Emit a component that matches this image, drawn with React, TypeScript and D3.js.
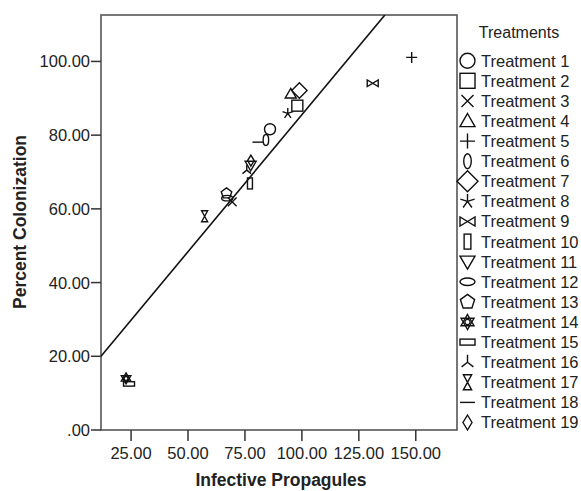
import React from "react";
import * as d3 from "d3";

const treatments = [
  "Treatment 1", "Treatment 2", "Treatment 3", "Treatment 4", "Treatment 5",
  "Treatment 6", "Treatment 7", "Treatment 8", "Treatment 9", "Treatment 10",
  "Treatment 11", "Treatment 12", "Treatment 13", "Treatment 14", "Treatment 15",
  "Treatment 16", "Treatment 17", "Treatment 18", "Treatment 19",
];
const shapes = [
  "circle", "square", "x", "triUp", "plus", "ellV", "diamond", "star5", "bowtie", "rectTall",
  "triDown", "ellH", "pentagon", "star6", "rectFlat", "invY", "hourglass", "dash", "diamondSmall",
];
const propagules = [86.0, 98.0, 69.4, 95.1, 148.2, 84.2, 98.9, 93.8, 131.1, 77.2, 77.5, 67.2, 66.9, 22.8, 24.1, 75.8, 57.3, 80.7, 77.6];
const colonization = [81.6, 88.0, 61.9, 91.2, 101.1, 78.7, 92.1, 85.9, 94.1, 66.9, 71.8, 62.9, 64.2, 14.0, 12.5, 70.5, 58.0, 78.1, 73.1];

const xTicks = [25, 50, 75, 100, 125, 150];
const yTicks = [0, 20, 40, 60, 80, 100];
const xDomain = [11.8, 168.1];
const yDomain = [0, 112.6];
const fitIntercept = 11.23;
const fitSlope = 0.743;

const FONT = "'Liberation Sans', Arial, sans-serif";

function fmt(v: number) {
  const s = d3.format(".2f")(v);
  return v === 0 ? s.replace(/^0/, "") : s;
}

function Marker({ shape, cx, cy, r }: { shape: string; cx: number; cy: number; r: number }) {
  const common = { fill: "none", stroke: "#111", strokeWidth: 1.4 };
  const t = `translate(${cx},${cy})`;
  let el: React.ReactNode = null;
  switch (shape) {
    case "circle":
      el = <circle r={r} {...common} />;
      break;
    case "square":
      el = <rect x={-r} y={-r} width={2 * r} height={2 * r} {...common} />;
      break;
    case "x":
      el = <path d={`M${-r * 0.8},${-r * 0.8}L${r * 0.8},${r * 0.8}M${r * 0.8},${-r * 0.8}L${-r * 0.8},${r * 0.8}`} {...common} />;
      break;
    case "triUp":
      el = <path d={`M0,${-r}L${r},${r * 0.75}L${-r},${r * 0.75}Z`} {...common} />;
      break;
    case "triDown":
      el = <path d={`M0,${r}L${r},${-r * 0.75}L${-r},${-r * 0.75}Z`} {...common} />;
      break;
    case "plus":
      el = <path d={`M${-r},0L${r},0M0,${-r}L0,${r}`} {...common} />;
      break;
    case "ellV":
      el = <ellipse rx={r * 0.5} ry={r} {...common} />;
      break;
    case "ellH":
      el = <ellipse rx={r} ry={r * 0.5} {...common} />;
      break;
    case "diamond":
      el = <path d={`M0,${-r * 1.4}L${r * 1.4},0L0,${r * 1.4}L${-r * 1.4},0Z`} {...common} />;
      break;
    case "diamondSmall":
      el = <path d={`M0,${-r}L${r * 0.6},0L0,${r}L${-r * 0.6},0Z`} {...common} />;
      break;
    case "star5": {
      let d = "";
      for (let i = 0; i < 5; i++) {
        const a = -Math.PI / 2 + (i * 2 * Math.PI) / 5;
        d += `M0,0L${r * Math.cos(a)},${r * Math.sin(a)}`;
      }
      el = <path d={d} {...common} />;
      break;
    }
    case "bowtie":
      el = <path d={`M${-r},${-r * 0.6}L${-r},${r * 0.6}L${r},${-r * 0.6}L${r},${r * 0.6}Z`} {...common} />;
      break;
    case "rectTall":
      el = <rect x={-r * 0.45} y={-r} width={r * 0.9} height={2 * r} {...common} />;
      break;
    case "rectFlat":
      el = <rect x={-r} y={-r * 0.4} width={2 * r} height={r * 0.8} {...common} />;
      break;
    case "pentagon": {
      const pts = d3.range(5).map((i) => {
        const a = -Math.PI / 2 + (i * 2 * Math.PI) / 5;
        return `${r * Math.cos(a)},${r * Math.sin(a)}`;
      });
      el = <path d={`M${pts.join("L")}Z`} {...common} />;
      break;
    }
    case "star6": {
      const tri = (off: number) =>
        "M" + d3.range(3).map((i) => {
          const a = off + (i * 2 * Math.PI) / 3;
          return `${r * Math.cos(a)},${r * Math.sin(a)}`;
        }).join("L") + "Z";
      el = (
        <g>
          <path d={tri(-Math.PI / 2) + tri(Math.PI / 2)} {...common} />
          <circle r={r * 0.35} {...common} />
        </g>
      );
      break;
    }
    case "invY": {
      let d = "";
      [-Math.PI / 2, Math.PI / 6 + 0.15, (5 * Math.PI) / 6 - 0.15].forEach((a) => {
        d += `M0,0L${r * Math.cos(a)},${r * Math.sin(a)}`;
      });
      el = <path d={d} {...common} />;
      break;
    }
    case "hourglass":
      el = <path d={`M${-r * 0.55},${-r}L${r * 0.55},${-r}L${-r * 0.55},${r}L${r * 0.55},${r}Z`} {...common} />;
      break;
    case "dash":
      el = <path d={`M${-r},0L${r},0`} {...common} />;
      break;
  }
  return <g transform={t}>{el}</g>;
}

export default function App() {
  const W = 581, H = 491;
  const left = 101, right = 457, top = 15, bottom = 430;
  const x = d3.scaleLinear().domain(xDomain).range([left, right]);
  const y = d3.scaleLinear().domain(yDomain).range([bottom, top]);

  const xEnd = (yDomain[1] - fitIntercept) / fitSlope;
  const linePts: [number, number][] = [
    [xDomain[0], fitIntercept + fitSlope * xDomain[0]],
    [xEnd, yDomain[1]],
  ];
  const lineGen = d3.line<[number, number]>().x((d) => x(d[0])).y((d) => y(d[1]));

  const legendX = 467.5;
  const legendY0 = 60.7;
  const legendStep = 20.1;

  return (
    <svg width={W} height={H} style={{ position: "absolute", left: 0, top: 0, background: "#fff" }} fontFamily={FONT}>
      <defs>
        <clipPath id="plotClip">
          <rect x={left} y={top} width={right - left} height={bottom - top} />
        </clipPath>
      </defs>
      <rect x={0} y={0} width={W} height={H} fill="#fff" />
      {/* frame */}
      <rect x={left} y={top} width={right - left} height={bottom - top} fill="none" stroke="#555" strokeWidth={1.6} />
      {/* y ticks */}
      {yTicks.map((t) => (
        <g key={"y" + t}>
          <line x1={left - 10} x2={left} y1={y(t)} y2={y(t)} stroke="#333" strokeWidth={1.5} />
          <text x={left - 11} y={y(t)} dy="0.36em" textAnchor="end" fontSize={16.5} fill="#222">{fmt(t)}</text>
        </g>
      ))}
      {/* x ticks */}
      {xTicks.map((t) => (
        <g key={"x" + t}>
          <line x1={x(t)} x2={x(t)} y1={bottom} y2={bottom + 11} stroke="#333" strokeWidth={1.5} />
          <text x={x(t)} y={458.5} textAnchor="middle" fontSize={16.5} fill="#222">{fmt(t)}</text>
        </g>
      ))}
      {/* axis titles */}
      <text x={281} y={486} textAnchor="middle" fontSize={17.5} fontWeight="bold" fill="#222">Infective Propagules</text>
      <text transform={`translate(25.5,222) rotate(-90)`} textAnchor="middle" fontSize={17.5} fontWeight="bold" fill="#222">Percent Colonization</text>
      {/* fit line */}
      <path d={lineGen(linePts) || ""} fill="none" stroke="#111" strokeWidth={1.6} clipPath="url(#plotClip)" />
      {/* points */}
      {treatments.map((tr, i) => (
        <Marker key={tr} shape={shapes[i]} cx={x(propagules[i])} cy={y(colonization[i])} r={5.5} />
      ))}
      {/* legend */}
      <text x={519} y={38} textAnchor="middle" fontSize={16} fill="#222">Treatments</text>
      {treatments.map((tr, i) => (
        <g key={"l" + tr}>
          <Marker shape={shapes[i]} cx={legendX} cy={legendY0 + i * legendStep} r={7.5} />
          <text x={481} y={legendY0 + i * legendStep} dy="0.36em" fontSize={16.5} fill="#222">{tr}</text>
        </g>
      ))}
    </svg>
  );
}
